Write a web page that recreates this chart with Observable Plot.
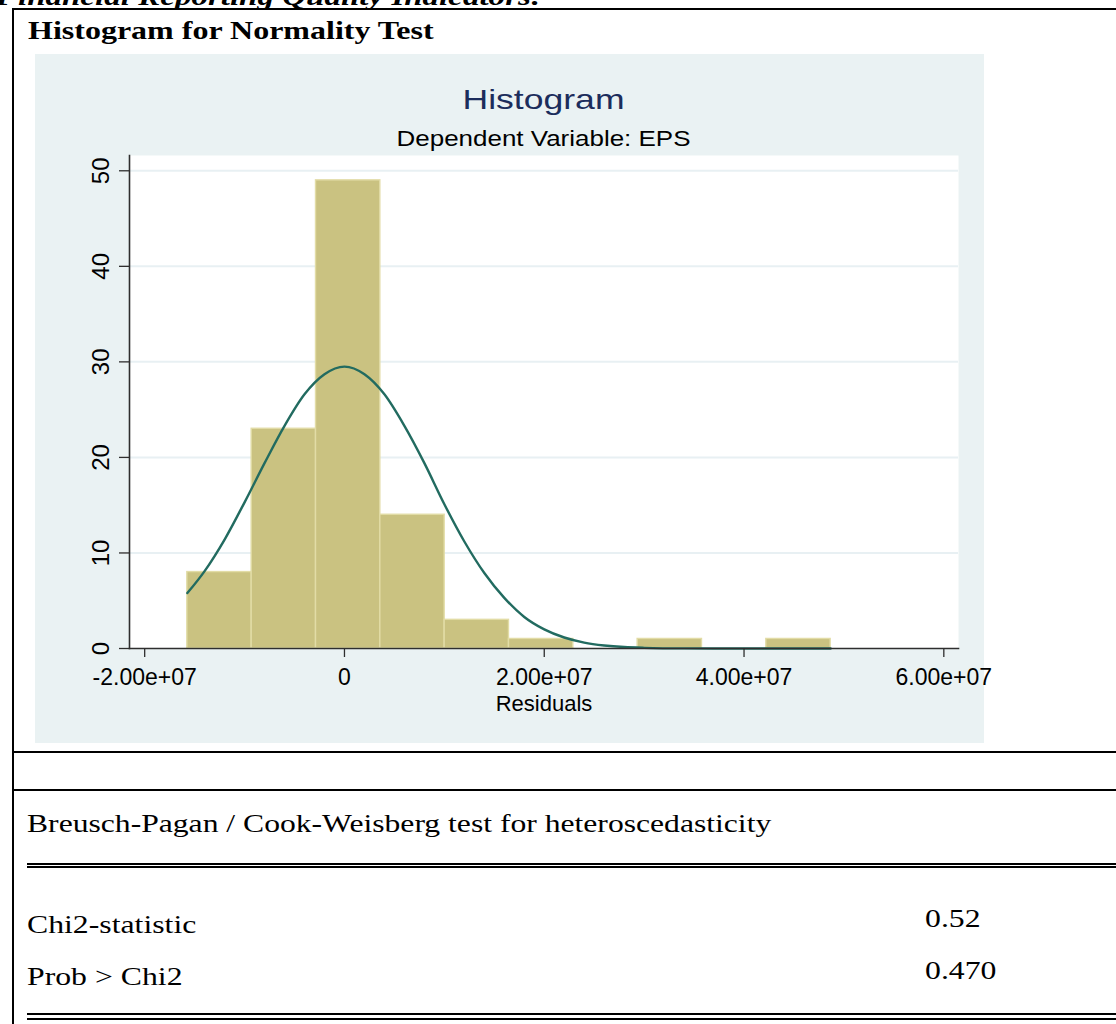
<!DOCTYPE html>
<html>
<head>
<meta charset="utf-8">
<script src="https://cdn.jsdelivr.net/npm/d3@7"></script>
<script src="https://cdn.jsdelivr.net/npm/@observablehq/plot@0.6"></script>
<style>
  html, body { margin: 0; padding: 0; background: #fff; }
  body { width: 1116px; height: 1024px; position: relative; overflow: hidden; }
  .abs { position: absolute; white-space: nowrap; }
  .serif { font-family: "Liberation Serif", "Times New Roman", serif; color: #000; }
  .sans { font-family: "Liberation Sans", Arial, sans-serif; }
  .rule { position: absolute; background: #000; }
  #panel { position: absolute; left: 35px; top: 54px; width: 949px; height: 689px; background: #eaf2f3; }
  #chart { position: absolute; left: 35px; top: 150px; }
</style>
</head>
<body>
<!-- document frame -->
<div class="abs serif" style="left:-4px; top:-16px; font-size:26px; line-height:26px; font-weight:bold; font-style:italic; transform:scaleX(1.27); transform-origin:left;">Financial Reporting Quality Indicators:</div>
<div class="rule" style="left:12px; top:8px; width:1104px; height:2px;"></div>
<div class="rule" style="left:12px; top:8px; width:2px; height:1016px;"></div>
<div class="abs serif" style="left:28px; top:18px; font-size:25px; line-height:25px; font-weight:bold; transform:scaleX(1.28); transform-origin:left;">Histogram for Normality Test</div>

<div id="panel"></div>
<div class="abs sans" style="left:129px; width:829px; top:86px; font-size:28px; line-height:28px; text-align:center; color:#1c2d5c; transform:scaleX(1.27); transform-origin:center;">Histogram</div>
<div class="abs sans" style="left:129px; width:829px; top:128px; font-size:22px; line-height:22px; text-align:center; color:#000; transform:scaleX(1.18); transform-origin:center;">Dependent Variable: EPS</div>
<div id="chart"></div>

<div class="rule" style="left:12px; top:751px; width:1104px; height:2px;"></div>
<div class="rule" style="left:12px; top:789px; width:1104px; height:2px;"></div>
<div class="abs serif" style="left:27px; top:811px; font-size:25px; line-height:25px; transform:scaleX(1.265); transform-origin:left;">Breusch-Pagan / Cook-Weisberg test for heteroscedasticity</div>
<div class="rule" style="left:27px; top:863px; width:1089px; height:2px;"></div>
<div class="rule" style="left:27px; top:866px; width:1089px; height:2px;"></div>
<div class="abs serif" style="left:27px; top:912px; font-size:25px; line-height:25px; transform:scaleX(1.27); transform-origin:left;">Chi2-statistic</div>
<div class="abs serif" style="left:925px; top:906px; font-size:25px; line-height:25px; transform:scaleX(1.27); transform-origin:left;">0.52</div>
<div class="abs serif" style="left:27px; top:964px; font-size:25px; line-height:25px; transform:scaleX(1.27); transform-origin:left;">Prob &gt; Chi2</div>
<div class="abs serif" style="left:925px; top:958px; font-size:25px; line-height:25px; transform:scaleX(1.27); transform-origin:left;">0.470</div>
<div class="rule" style="left:27px; top:1013px; width:1089px; height:2px;"></div>
<div class="rule" style="left:27px; top:1018px; width:1089px; height:2px;"></div>

<script>
// ---- data ----
const binEdges = [-15.73e6, -9.29e6, -2.85e6, 3.59e6, 10.03e6, 16.47e6, 22.91e6, 29.35e6, 35.79e6, 42.23e6, 48.67e6];
const counts   = [8, 23, 49, 14, 3, 1, 0, 1, 0, 1];

// normal-density overlay (residual value, frequency)
const curveX = [-15.73e6, -14e6, -12e6, -10e6, -8e6, -6e6, -4e6, -2e6, 0, 2e6, 4e6, 6e6, 8e6, 10e6, 12e6, 14e6, 16e6, 18e6, 20e6, 22e6, 24e6, 26e6, 28e6, 30e6, 34e6, 40e6, 48.67e6];
const curveY = [5.8, 8.1, 11.4, 15.3, 19.4, 23.3, 26.6, 28.7, 29.5, 28.7, 26.6, 23.3, 19.4, 15.1, 11.2, 7.9, 5.3, 3.3, 2.0, 1.15, 0.62, 0.32, 0.15, 0.07, 0.01, 0, 0];

const xTicks = [-2e7, 0, 2e7, 4e7, 6e7];
const xTickLabels = ["-2.00e+07", "0", "2.00e+07", "4.00e+07", "6.00e+07"];
const yTicks = [0, 10, 20, 30, 40, 50];
const yTickLabels = ["0", "10", "20", "30", "40", "50"];
const xLabel = "Residuals";

// ---- tables built from the arrays ----
const bins = counts.map((c, i) => ({x1: binEdges[i], x2: binEdges[i + 1], count: c})).filter(d => d.count > 0);
const curve = curveX.map((x, i) => ({x, y: curveY[i]}));

const axisColor = "#2e2e2e";

const chart = Plot.plot({
  width: 949,
  height: 593,
  marginLeft: 94,
  marginRight: 26,
  marginTop: 5,
  marginBottom: 95,
  x: {domain: [-2.152e7, 6.147e7]},
  y: {domain: [0, 51.6]},
  style: {background: "transparent", fontFamily: "'Liberation Sans', Arial, sans-serif", color: "#000", overflow: "visible"},
  marks: [
    Plot.frame({fill: "white", stroke: null}),
    Plot.gridY(yTicks.filter(d => d > 0), {stroke: "#e8f0f3", strokeOpacity: 1, strokeWidth: 2}),
    Plot.rect(bins, {x1: "x1", x2: "x2", y1: 0, y2: "count", fill: "#cac281", stroke: "#e2dca6", strokeWidth: 1.4}),
    Plot.line(curve, {x: "x", y: "y", stroke: "#226b60", strokeWidth: 2.4, curve: "monotone-x"}),
    Plot.frame({anchor: "left", stroke: axisColor, strokeWidth: 1.6}),
    Plot.frame({anchor: "bottom", stroke: axisColor, strokeWidth: 1.6}),
    Plot.axisX({ticks: xTicks, tickFormat: d => xTickLabels[xTicks.indexOf(d)], tickSize: 9, tickPadding: 11, fontSize: 23, stroke: axisColor, strokeWidth: 1.3, label: null}),
    Plot.axisY({ticks: yTicks, tickFormat: () => "", tickSize: 10, stroke: axisColor, strokeWidth: 1.3, label: null}),
    Plot.text(yTicks, {y: d => d, text: d => yTickLabels[yTicks.indexOf(d)], frameAnchor: "left", dx: -28, rotate: -90, fontSize: 24, textAnchor: "middle", lineAnchor: "middle", fill: "#000"}),
    Plot.text([xLabel], {text: d => d, frameAnchor: "bottom", dy: 62, lineAnchor: "bottom", fontSize: 22, fill: "#000"})
  ]
});
document.getElementById("chart").appendChild(chart);
</script>
</body>
</html>
